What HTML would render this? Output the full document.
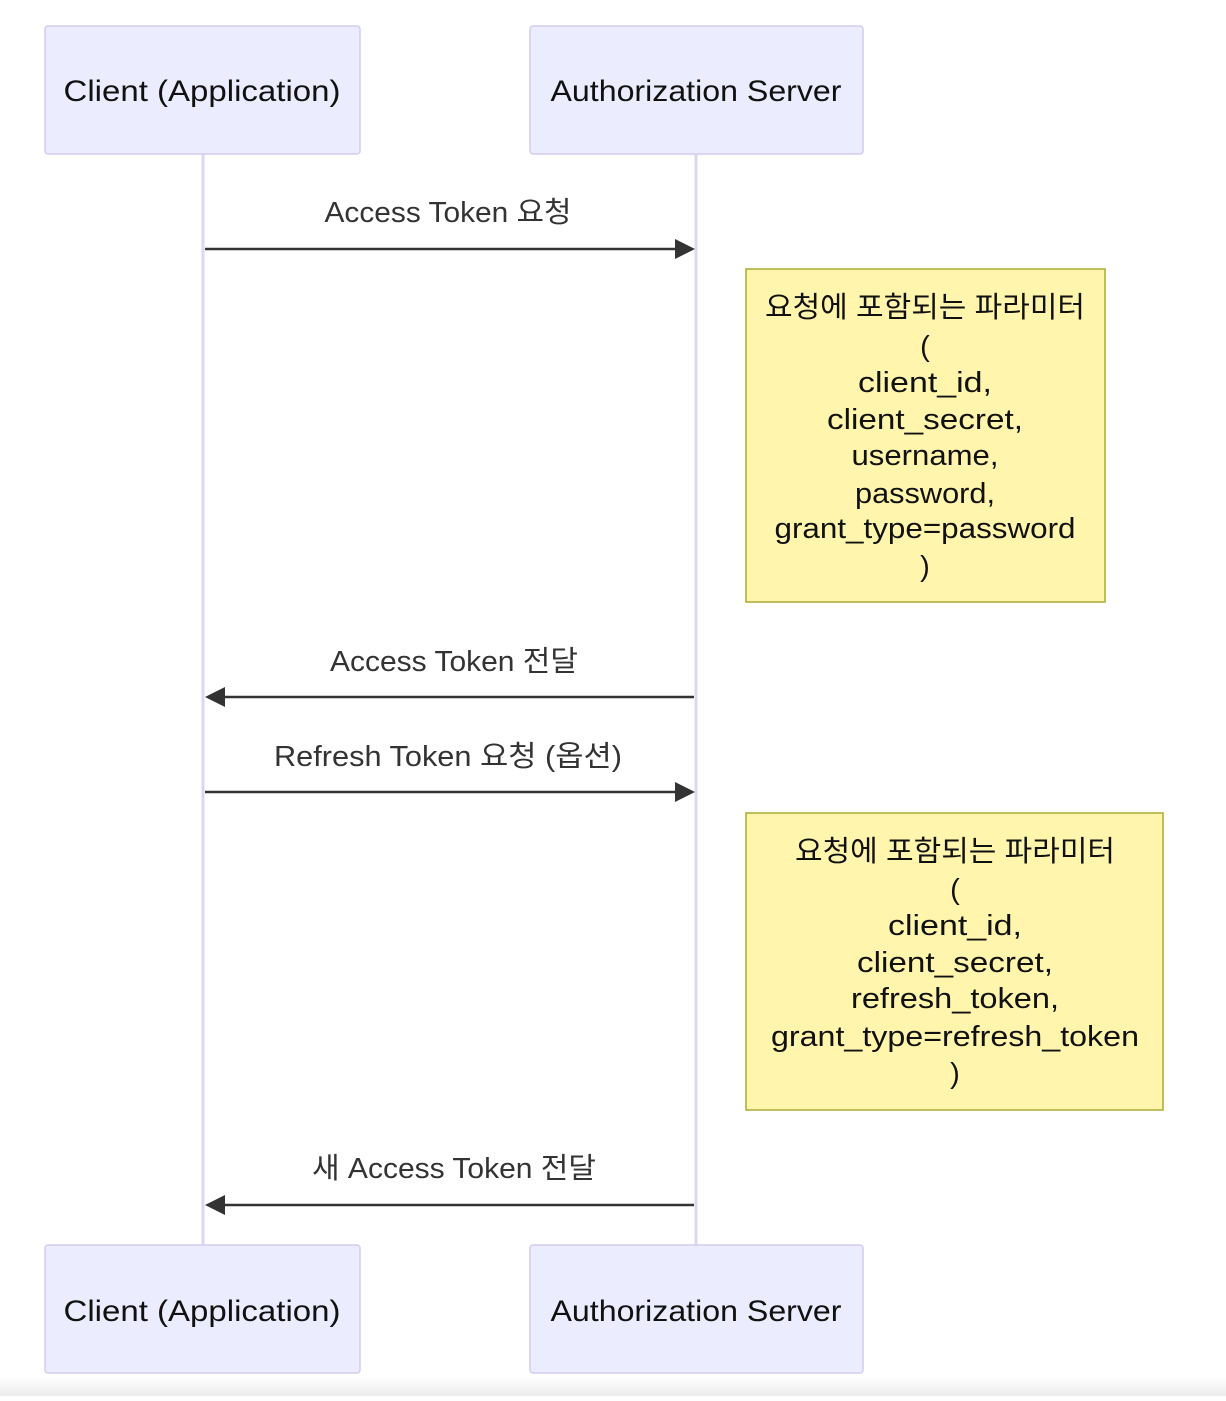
<!DOCTYPE html>
<html><head><meta charset="utf-8"><style>
html,body{margin:0;padding:0;background:#fff;}
body{width:1226px;height:1396px;overflow:hidden;}
text{font-family:"Liberation Sans","Noto Sans CJK KR",sans-serif;}
</style></head><body>
<svg width="1226" height="1396" xmlns="http://www.w3.org/2000/svg">
<defs>
<linearGradient id="g" x1="0" y1="0" x2="0" y2="1"><stop offset="0" stop-color="#fff"/><stop offset="1" stop-color="#ececec"/></linearGradient>
</defs>
<rect x="0" y="1376" width="1226" height="20" fill="url(#g)"/>
<line x1="203" y1="154" x2="203" y2="1245" stroke="#ddd5f2" stroke-width="3"/>
<line x1="696" y1="154" x2="696" y2="1245" stroke="#ddd5f2" stroke-width="3"/>
<g fill="#ececff" stroke="#d4ccf0" stroke-width="1.5">
<rect x="45" y="26" width="315" height="128" rx="3"/>
<rect x="530" y="26" width="333" height="128" rx="3"/>
<rect x="45" y="1245" width="315" height="128" rx="3"/>
<rect x="530" y="1245" width="333" height="128" rx="3"/>
</g>
<g font-size="30" fill="#111" text-anchor="middle" lengthAdjust="spacingAndGlyphs">
<text x="202" y="101" textLength="277" lengthAdjust="spacingAndGlyphs">Client (Application)</text>
<text x="696" y="101" textLength="291" lengthAdjust="spacingAndGlyphs">Authorization Server</text>
<text x="202" y="1321" textLength="277" lengthAdjust="spacingAndGlyphs">Client (Application)</text>
<text x="696" y="1321" textLength="291" lengthAdjust="spacingAndGlyphs">Authorization Server</text>
</g>
<g stroke="#333" stroke-width="2.5">
<line x1="205" y1="249" x2="680" y2="249"/>
<line x1="694" y1="697" x2="220" y2="697"/>
<line x1="205" y1="792" x2="680" y2="792"/>
<line x1="694" y1="1205" x2="220" y2="1205"/>
</g>
<g fill="#333">
<polygon points="675,239 695,249 675,259"/>
<polygon points="225,687 205,697 225,707"/>
<polygon points="675,782 695,792 675,802"/>
<polygon points="225,1195 205,1205 225,1215"/>
</g>
<g font-size="29" fill="#333" text-anchor="middle">
<text x="448" y="222" textLength="247" lengthAdjust="spacingAndGlyphs">Access Token 요청</text>
<text x="454" y="671" textLength="248" lengthAdjust="spacingAndGlyphs">Access Token 전달</text>
<text x="448" y="766" textLength="348" lengthAdjust="spacingAndGlyphs">Refresh Token 요청 (옵션)</text>
<text x="454" y="1178" textLength="284" lengthAdjust="spacingAndGlyphs">새 Access Token 전달</text>
</g>
<rect x="746" y="269" width="359" height="333" fill="#fff5ad" stroke="#aaaa33" stroke-width="1.5"/>
<rect x="746" y="813" width="417" height="297" fill="#fff5ad" stroke="#aaaa33" stroke-width="1.5"/>
<g font-size="29" fill="#111" text-anchor="middle">
<text x="925" y="317" textLength="320" lengthAdjust="spacingAndGlyphs">요청에 포함되는 파라미터</text>
<text x="925" y="356">(</text>
<text x="925" y="392" textLength="134" lengthAdjust="spacingAndGlyphs">client_id,</text>
<text x="925" y="429" textLength="196" lengthAdjust="spacingAndGlyphs">client_secret,</text>
<text x="925" y="465" textLength="147" lengthAdjust="spacingAndGlyphs">username,</text>
<text x="925" y="503" textLength="140" lengthAdjust="spacingAndGlyphs">password,</text>
<text x="925" y="538" textLength="301" lengthAdjust="spacingAndGlyphs">grant_type=password</text>
<text x="925" y="576">)</text>
<text x="955" y="861" textLength="320" lengthAdjust="spacingAndGlyphs">요청에 포함되는 파라미터</text>
<text x="955" y="899">(</text>
<text x="955" y="935" textLength="134" lengthAdjust="spacingAndGlyphs">client_id,</text>
<text x="955" y="972" textLength="196" lengthAdjust="spacingAndGlyphs">client_secret,</text>
<text x="955" y="1008" textLength="208" lengthAdjust="spacingAndGlyphs">refresh_token,</text>
<text x="955" y="1046" textLength="368" lengthAdjust="spacingAndGlyphs">grant_type=refresh_token</text>
<text x="955" y="1083">)</text>
</g>
</svg>
</body></html>
